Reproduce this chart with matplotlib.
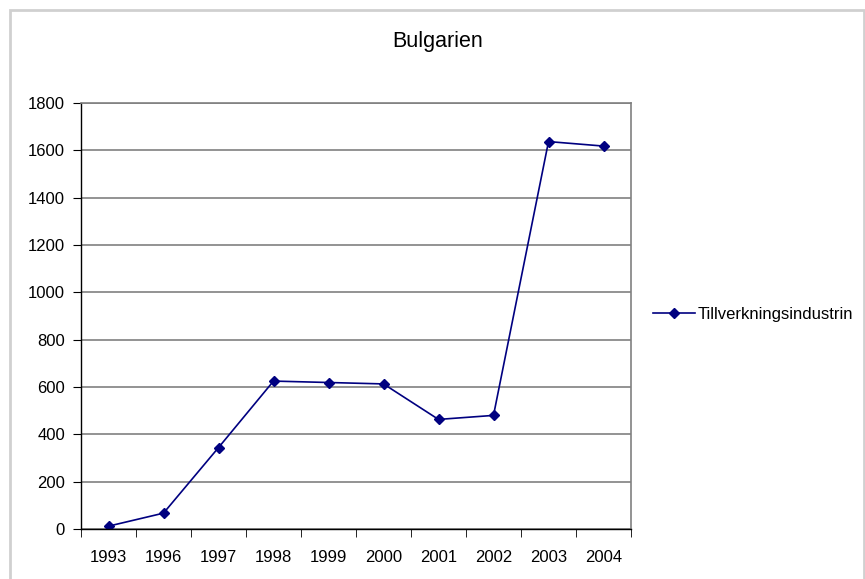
import numpy as np
import matplotlib.pyplot as plt
from matplotlib.patches import Rectangle

years = ['1993', '1996', '1997', '1998', '1999', '2000', '2001', '2002', '2003', '2004']
values = [12, 67, 344, 625, 619, 613, 463, 480, 1637, 1618]
yticks = [0, 200, 400, 600, 800, 1000, 1200, 1400, 1600, 1800]

plt.rcParams['font.family'] = ['Liberation Sans', 'DejaVu Sans']

W, H = 865, 579
fig = plt.figure(figsize=(W / 100, H / 100), dpi=100)
fig.patches.append(Rectangle((10 / W, -0.01), (864 - 10) / W, (H - 10) / H + 0.01,
                             transform=fig.transFigure, fill=False,
                             edgecolor='#d0d0d0', linewidth=2))

ax = fig.add_axes([81 / W, 1 - 529 / H, (631 - 81) / W, (529 - 103) / H])
x = np.arange(len(years))
ax.plot(x, values, color='#000080', linewidth=1.2, marker='D', markersize=5,
        label='Tillverkningsindustrin')

ax.set_xlim(-0.5, len(years) - 0.5)
ax.set_ylim(0, 1800)
ax.set_yticks(yticks)
ax.set_yticklabels([str(v) for v in yticks], fontsize=12)
ax.set_xticks(x)
ax.set_xticklabels(years, fontsize=12)
ax.tick_params(axis='x', length=0, pad=15)
ax.set_xticks(np.arange(-0.5, len(years), 1.0), minor=True)
ax.tick_params(axis='x', which='minor', length=5.5, color='black', direction='out')
ax.tick_params(axis='y', length=5.5, color='black', direction='out', pad=6)
ax.yaxis.grid(True, color='#808080', linewidth=1.2)
ax.set_axisbelow(True)
for s in ['top', 'right']:
    ax.spines[s].set_color('#808080')
    ax.spines[s].set_linewidth(1.2)
for s in ['left', 'bottom']:
    ax.spines[s].set_color('black')
    ax.spines[s].set_linewidth(1)

fig.text(438 / W, 1 - 42 / H, 'Bulgarien', ha='center', va='center', fontsize=15.5)
ax.legend(loc='center left', bbox_to_anchor=(653 / W, 1 - 314 / H),
          bbox_transform=fig.transFigure, frameon=False, fontsize=12,
          borderpad=0, borderaxespad=0, handlelength=2.5, handletextpad=0.2)

fig.savefig('out.png', dpi=100)
